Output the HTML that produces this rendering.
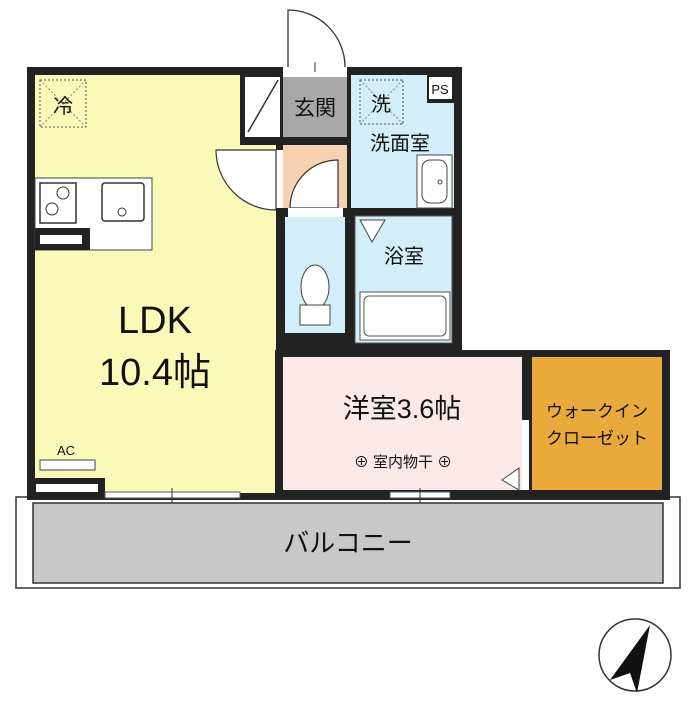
<!DOCTYPE html>
<html><head><meta charset="utf-8"><style>
body{margin:0;background:#fff}
svg text{font-family:"Liberation Sans","Noto Sans CJK JP",sans-serif;fill:#111}
</style></head><body>
<svg width="700" height="700" viewBox="0 0 700 700" xmlns="http://www.w3.org/2000/svg">
<rect width="700" height="700" fill="#fff"/>
<!-- balcony -->
<rect x="16" y="497" width="664" height="91" fill="#fff" stroke="#333" stroke-width="1.5"/>
<rect x="33" y="503" width="630" height="80" fill="#c8c8c8" stroke="#333" stroke-width="1.5"/>
<text x="348" y="552" font-size="26" text-anchor="middle">バルコニー</text>
<!-- LDK -->
<rect x="27" y="67" width="256" height="433" fill="#222"/>
<rect x="35" y="75" width="241" height="418" fill="#fbf9b8"/>
<!-- wet area walls -->
<rect x="276" y="67" width="186" height="290" fill="#222"/>
<rect x="240" y="67" width="43" height="78" fill="#222"/>
<rect x="245" y="77" width="35" height="60" fill="#fff"/>
<line x1="278" y1="80" x2="248" y2="132" stroke="#333" stroke-width="1.5"/>
<rect x="283" y="77" width="64" height="60" fill="#a8a8a8"/>
<text x="315" y="115" font-size="21" text-anchor="middle">玄関</text>
<rect x="283" y="145" width="64" height="63" fill="#f7d2b0"/>
<rect x="351" y="75" width="103" height="133" fill="#d2eef9"/>
<rect x="427" y="75" width="27" height="28" fill="#222"/>
<rect x="429" y="77" width="23" height="22" fill="#fff"/>
<text x="440" y="94" font-size="13" text-anchor="middle">PS</text>
<rect x="360" y="80" width="43" height="44" fill="none" stroke="#555" stroke-dasharray="2,2"/>
<path d="M360 80 L403 124 M403 80 L360 124" stroke="#888" stroke-dasharray="2,2"/>
<text x="381" y="111" font-size="20" text-anchor="middle">洗</text>
<text x="400" y="150" font-size="20" text-anchor="middle">洗面室</text>
<rect x="417" y="155" width="35" height="53" fill="#fff" stroke="#444"/>
<rect x="422" y="160" width="25" height="43" rx="8" fill="#fff" stroke="#444"/>
<circle cx="440" cy="182" r="2" fill="none" stroke="#444"/>
<rect x="285" y="217" width="60" height="116" fill="#d2eef9"/>
<ellipse cx="315" cy="287" rx="14" ry="22" fill="#fff" stroke="#444"/>
<rect x="300" y="305" width="30" height="20" fill="#fff" stroke="#444"/>
<rect x="355" y="216" width="97" height="127" fill="#d2eef9" stroke="#555"/>
<rect x="360" y="292" width="90" height="48" fill="#fff" stroke="#555"/>
<rect x="364" y="296" width="82" height="40" rx="5" fill="#fff" stroke="#555"/>
<path d="M360 220 L385 220 L372 242 Z" fill="#fff" stroke="#444"/>
<text x="404" y="263" font-size="20" text-anchor="middle">浴室</text>
<!-- entry door -->
<rect x="283" y="67" width="64" height="10" fill="#fff"/>
<path d="M288 67 L288 10 A57 57 0 0 1 345 67" fill="#fff" stroke="#333" stroke-width="1.3"/>
<line x1="315" y1="62" x2="315" y2="72" stroke="#333"/>
<!-- hallway doors -->
<rect x="276" y="150" width="7" height="58" fill="#fff"/>
<path d="M276 150 L216 150 A60 60 0 0 0 276 210 Z" fill="#fff" stroke="#333" stroke-width="1.2"/>
<path d="M338 160 L338 208 L290 208 A48 48 0 0 1 338 160 Z" fill="#fff" stroke="#333" stroke-width="1.2"/>
<rect x="288" y="208" width="55" height="9" fill="#fff"/>
<!-- kitchen -->
<rect x="35" y="178" width="117" height="72" fill="#fff" stroke="#444"/>
<rect x="40" y="183" width="36" height="40" fill="#fff" stroke="#333" stroke-width="1.5"/>
<circle cx="63" cy="193" r="6" fill="none" stroke="#333"/>
<circle cx="52" cy="209" r="6" fill="none" stroke="#333"/>
<rect x="102" y="183" width="42" height="38" rx="3" fill="#fff" stroke="#333" stroke-width="1.5"/>
<circle cx="122" cy="212" r="4" fill="none" stroke="#333"/>
<rect x="35" y="228" width="55" height="22" fill="#222"/>
<rect x="40" y="235" width="42" height="9" fill="#fff"/>
<rect x="40" y="80" width="46" height="47" fill="none" stroke="#555" stroke-dasharray="2,2"/>
<path d="M40 80 L86 127 M86 80 L40 127" stroke="#888" stroke-dasharray="2,2"/>
<text x="63" y="113" font-size="20" text-anchor="middle">冷</text>
<text x="155" y="333" font-size="38" text-anchor="middle">LDK</text>
<text x="155" y="385" font-size="38" text-anchor="middle">10.4帖</text>
<text x="66" y="455" font-size="13" text-anchor="middle">AC</text>
<rect x="40" y="460" width="55" height="10" fill="#fff" stroke="#444"/>
<rect x="30" y="478" width="75" height="22" fill="#222"/>
<rect x="36" y="484" width="62" height="8" fill="#fff"/>
<!-- western room & closet -->
<rect x="275" y="350" width="395" height="150" fill="#222"/>
<rect x="283" y="357" width="239" height="133" fill="#fbe9e9"/>
<rect x="532" y="357" width="130" height="133" fill="#e9a93b"/>
<rect x="522" y="420" width="7" height="70" fill="#fff"/>
<path d="M519 468 L519 490 L502 480 Z" fill="#fff" stroke="#444"/>
<text x="402" y="418" font-size="27" text-anchor="middle">洋室3.6帖</text>
<text x="403" y="467" font-size="15" text-anchor="middle">⊕ 室内物干 ⊕</text>
<text x="597" y="417" font-size="17" text-anchor="middle">ウォークイン</text>
<text x="597" y="444" font-size="17" text-anchor="middle">クローゼット</text>
<!-- windows -->
<rect x="105" y="492" width="135" height="6" fill="#fff" stroke="#555"/>
<line x1="172" y1="488" x2="172" y2="503" stroke="#333"/>
<rect x="390" y="492" width="60" height="6" fill="#fff" stroke="#555"/>
<line x1="420" y1="488" x2="420" y2="503" stroke="#333"/>
<!-- compass -->
<circle cx="635" cy="655" r="36" fill="none" stroke="#333" stroke-width="1.5"/>
<path d="M650 625 L610 680 L630 673 L637 693 Z" fill="#111"/>
</svg>
</body></html>
